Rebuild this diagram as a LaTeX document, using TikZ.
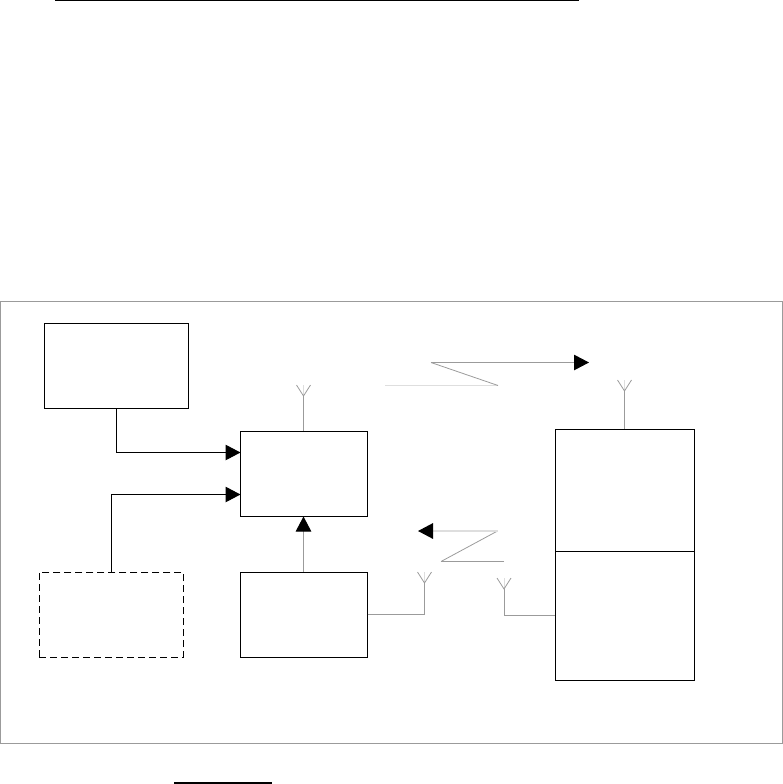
\documentclass[tikz,border=0pt]{standalone}
\usepackage{xcolor}
\usetikzlibrary{arrows.meta,positioning,calc}
\definecolor{lkedge}{RGB}{0,0,0}
\definecolor{lkgray}{RGB}{155,155,155}
\definecolor{lkfaint}{RGB}{222,222,222}
\tikzset{
  lkbox/.style={
    draw=lkedge, line width=1pt, inner sep=0pt, fill=white
  },
  dbox/.style={lkbox, dashed, dash pattern=on 7pt off 4pt},
  frm/.style={draw=lkgray, line width=1pt, inner sep=0pt},
  arr/.style={-{Triangle[length=15pt,width=15.5pt,color=black,fill=black]}},
  blk/.style={draw=lkedge, line width=1pt},
  gry/.style={draw=lkgray, line width=1pt},
  fnt/.style={draw=lkfaint, line width=1.4pt},
  ant/.style={draw=lkgray, line width=0.8pt}
}
\begin{document}
\begin{tikzpicture}[x=1pt,y=-1pt]
  \useasboundingbox (0,0) rectangle (783,784);
  \node[frm, minimum width=781.8pt, minimum height=442.4pt] (frame) at (391.4,522.5) {};
  \coordinate (ruleTL) at (55,0.6);
  \coordinate (ruleTR) at (579,0.6);
  \coordinate (ruleBL) at (174,783);
  \coordinate (ruleBR) at (272,783);
  \draw[blk, line width=1.4pt] (ruleTL) -- (ruleTR);
  \draw[blk, line width=1.6pt] (ruleBL) -- (ruleBR);
  % boxes
  \node[lkbox, minimum width=144pt, minimum height=85pt] (src) at (116.3,365.5) {};
  \node[lkbox, minimum width=127pt, minimum height=85pt] (enc) at (303.5,473.5) {};
  \node[dbox, minimum width=144pt, minimum height=85pt] (opt) at (111.3,614.5) {};
  \node[lkbox, minimum width=127pt, minimum height=85pt] (rcv) at (303.5,614.5) {};
  \node[lkbox, minimum width=139pt, minimum height=122pt] (upper) at (624.5,490) {};
  \node[lkbox, minimum width=139pt, minimum height=129pt] (lower) at (624.5,615.5) {};
  % inputs
  \coordinate (encA) at (240.5,452.5);
  \coordinate (encB) at (240.5,494.5);
  \draw[blk, arr] (src.south) |- (encA);
  \draw[blk, arr] (opt.north) |- (encB);
  \draw[gry, arr] (rcv.north) -- (enc.south);
  % antennas
  \coordinate (antEnc) at (303.5,396);
  \coordinate (antUp) at (624.5,391);
  \coordinate (antRcv) at (424.5,583);
  \coordinate (antLow) at (504,589);
  \draw[gry] (enc.north) -- (antEnc);
  \draw[gry] (upper.north) -- (antUp);
  \draw[gry] (rcv.east) -| (antRcv);
  \draw[gry] (lower.west) -| (antLow);
  \foreach \a in {antEnc,antUp,antRcv,antLow} {
    \draw[fnt, line width=0.8pt] (\a) -- ($(\a)+(0,-11)$);
    \draw[ant] ($(\a)+(-7,-11)$) -- (\a) -- ($(\a)+(7,-11)$);
  }
  % links
  \coordinate (upA) at (385,385.5);
  \coordinate (upB) at (498,385.5);
  \coordinate (upC) at (431,362.5);
  \coordinate (upD) at (589,362.5);
  \draw[fnt] (upA) -- (upB);
  \draw[ant] (upB) -- (upC);
  \draw[gry, arr] (upC) -- (upD);
  \coordinate (dnA) at (504,561.5);
  \coordinate (dnB) at (441,561.5);
  \coordinate (dnC) at (497.5,531);
  \coordinate (dnD) at (418,531);
  \draw[gry] (dnA) -- (dnB);
  \draw[ant] (dnB) -- (dnC);
  \draw[fnt, arr] (dnC) -- (dnD);
\end{tikzpicture}
\end{document}
